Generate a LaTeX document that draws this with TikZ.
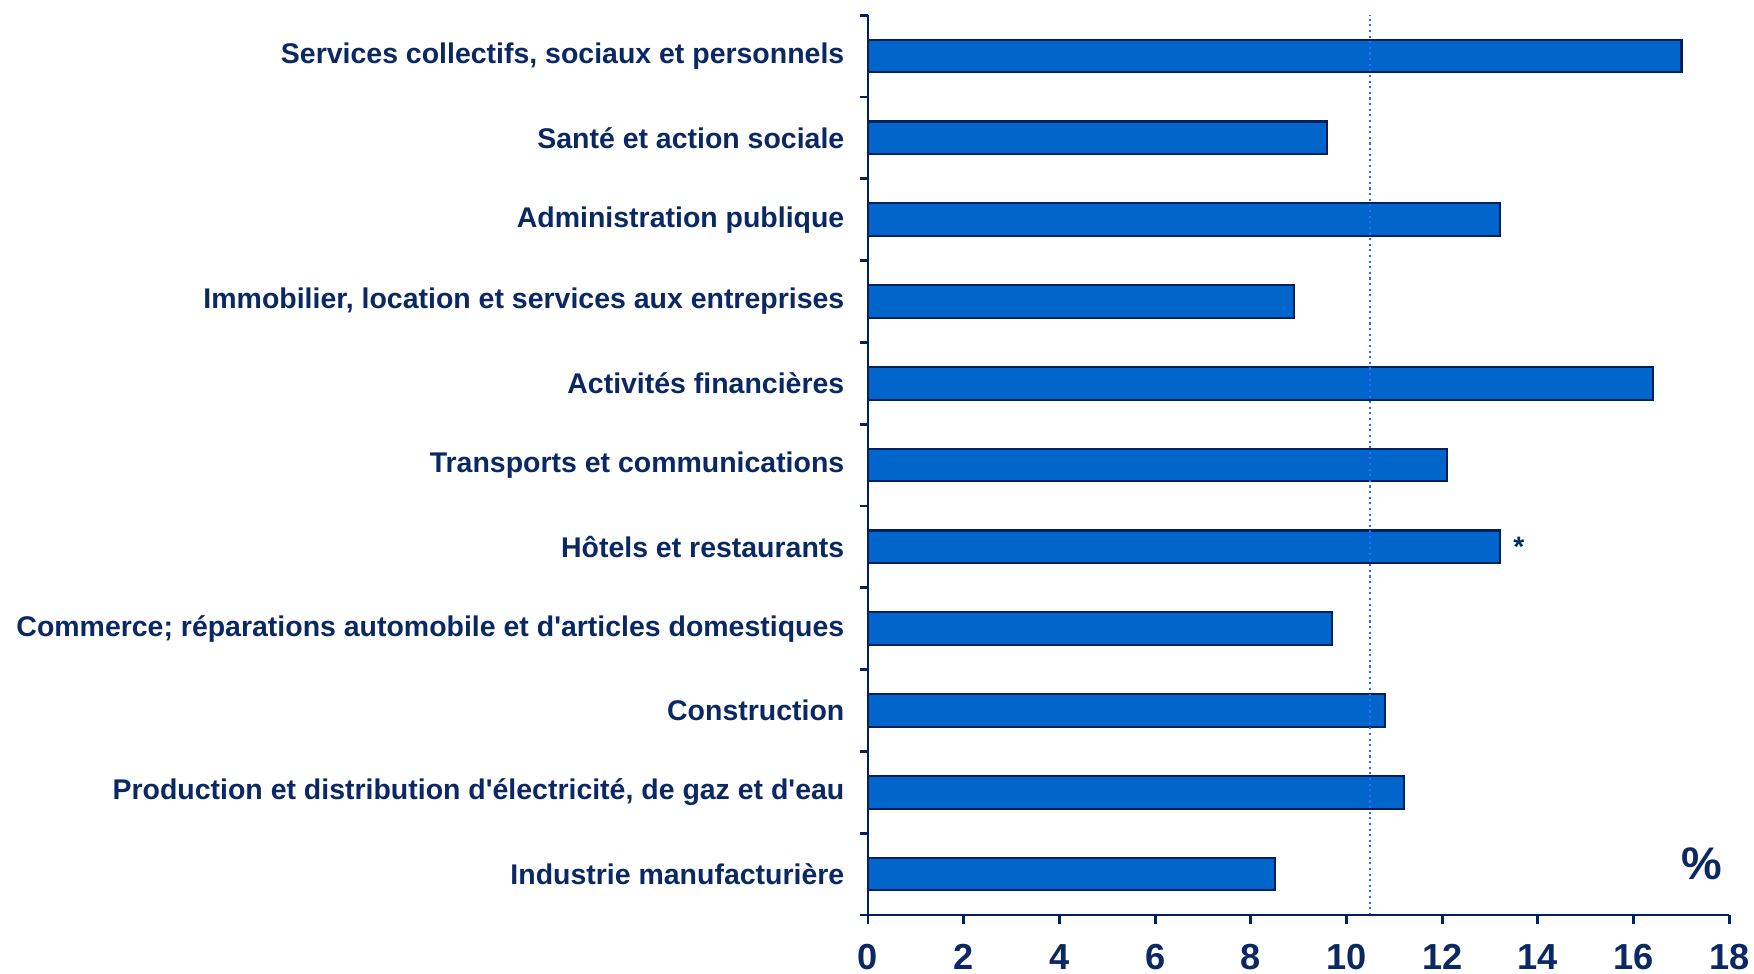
\documentclass[tikz,border=0pt]{standalone}
\usepackage{fontspec}
\setmainfont{Liberation Sans}
\usetikzlibrary{positioning}

\definecolor{barblue}{RGB}{0,102,204}
\definecolor{barline}{RGB}{0,32,96}
\definecolor{navytext}{RGB}{10,40,100}
\definecolor{meanblue}{RGB}{51,102,255}

\begin{document}
\begin{tikzpicture}[%
		x=0.4785cm,
		y=0.818cm,
		catlabel/.style={
			anchor=east,
			inner sep=0pt,
			text=navytext,
			font=\fontsize{8.1}{9}\selectfont\bfseries
		},
		bar/.style={
			fill=barblue,
			draw=barline,
			line width=0.6pt
		},
		axisline/.style={
			draw=barline,
			line width=0.8pt
		},
		ticklabel/.style={
			inner sep=0pt,
			text=navytext,
			font=\fontsize{10.3}{12}\selectfont\bfseries
		},
		meanline/.style={
			meanblue,
			densely dotted,
			line width=0.6pt
		},
		note/.style={
			inner sep=0pt,
			text=navytext,
			font=\fontsize{8}{9}\selectfont\bfseries
		}]

		\useasboundingbox (-8.68cm,-0.59cm) rectangle (8.86cm,9.15cm);

		% BARS AND LABELS

		\foreach \v/\lab [count=\i from 0] in {
			8.5/{Industrie manufacturière},
			11.2/{Production et distribution d\textquotesingle électricité, de gaz et d\textquotesingle eau},
			10.8/{Construction},
			9.7/{Commerce; réparations automobile et d\textquotesingle articles domestiques},
			13.2/{Hôtels et restaurants},
			12.1/{Transports et communications},
			16.4/{Activités financières},
			8.9/{Immobilier, location et services aux entreprises},
			13.2/{Administration publique},
			9.6/{Santé et action sociale},
			17.0/{Services collectifs, sociaux et personnels}}
		{
			\draw[bar] (0,\i+0.3) rectangle (\v,\i+0.7);
			\coordinate (end\i) at (\v,\i+0.5);
			\node[catlabel] (lab\i) at ([xshift=-0.23cm]0,\i+0.5) {\lab};
		}

		% MEAN LINE

		\draw[meanline] (10.5,0) -- (10.5,11);

		% AXES

		\draw[axisline] (0,0) -- (0,11);
		\foreach \k in {0,...,11}
			\draw[axisline] (0,\k) -- ++(-0.08cm,0);
		\draw[axisline] (0,0) -- (18,0);
		\foreach \t in {0,2,...,18}
		{
			\draw[axisline] (\t,0) -- ++(0,-0.09cm);
			\node[ticklabel] (tick\t) at ([yshift=-0.42cm]\t,0) {\t};
		}

		% NOTES

		\node[note, right=0.13cm of end4] (star) {*};
		\node[inner sep=0pt, text=navytext, font=\fontsize{13}{14}\selectfont\bfseries] (pct) at (17.43,0.62) {\%};
\end{tikzpicture}
\end{document}
